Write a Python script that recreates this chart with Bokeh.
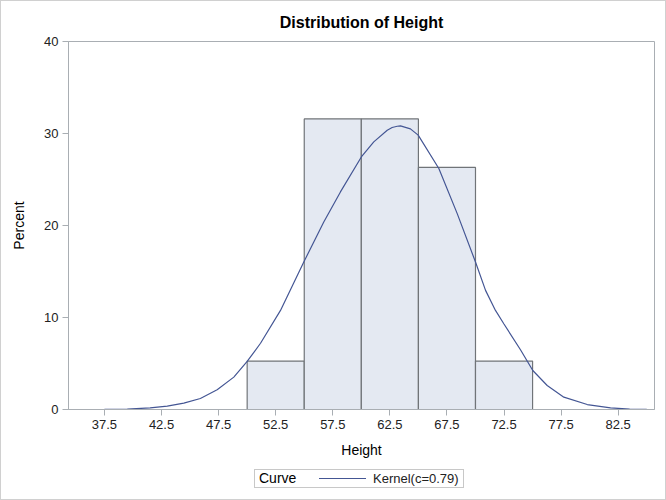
from bokeh.plotting import figure
from bokeh.layouts import column
from bokeh.models import Range1d, FixedTicker, ColumnDataSource, Div
from bokeh.embed import file_html
from bokeh.resources import INLINE

# ---- data ----
bin_left = [50.0, 55.0, 60.0, 65.0, 70.0]
bin_right = [55.0, 60.0, 65.0, 70.0, 75.0]
percent = [5.263, 31.579, 31.579, 26.316, 5.263]

kernel_x = [35.0, 37.5, 39.5, 41.5, 43.0, 44.45, 45.9, 47.37, 48.83, 50.0, 51.17,
            52.92, 54.96, 56.71, 58.17, 60.0, 61.09, 62.27, 62.7, 63.14, 63.43,
            64.3, 64.98, 66.79, 68.40, 70.0, 70.88, 71.75, 72.48, 73.94, 75.02,
            76.28, 77.74, 79.79, 81.83, 83.5, 85.0]
kernel_y = [0.0, 0.01, 0.05, 0.18, 0.36, 0.69, 1.2, 2.14, 3.52, 5.22, 7.2,
            10.77, 16.03, 20.38, 23.65, 27.45, 29.09, 30.36, 30.65, 30.79, 30.83,
            30.5, 29.82, 26.19, 21.29, 16.03, 12.95, 10.77, 9.32, 6.5, 4.24,
            2.61, 1.34, 0.54, 0.18, 0.05, 0.02]

x_ticks = [37.5, 42.5, 47.5, 52.5, 57.5, 62.5, 67.5, 72.5, 77.5, 82.5]
y_ticks = [0, 10, 20, 30, 40]

legend_title = "Curve"
legend_label = "Kernel(c=0.79)"

FONT = "Liberation Sans"
AXIS_GRAY = "#A9AEB3"
CURVE_COLOR = "#445694"

p = figure(width=664, height=462, output_backend="svg", toolbar_location=None,
           x_range=Range1d(34.35, 85.68), y_range=Range1d(0, 40),
           min_border_left=67, min_border_right=11, min_border_top=40,
           min_border_bottom=54)

p.title.text = "Distribution of Height"
p.title.align = "center"
p.title.text_font = FONT
p.title.text_font_size = "16px"
p.title.text_font_style = "bold"
p.title.text_color = "#000000"
p.title.standoff = 21

p.xgrid.visible = False
p.ygrid.visible = False
p.outline_line_color = AXIS_GRAY
p.outline_line_width = 1

bars = ColumnDataSource(dict(left=bin_left, right=bin_right, top=percent,
                             bottom=[0] * len(percent)))
p.quad(left="left", right="right", top="top", bottom="bottom", source=bars,
       fill_color="#E4E9F2", line_color="#707478", line_width=1.2)

p.line(kernel_x, kernel_y, line_color=CURVE_COLOR, line_width=1.2)

for ax in (p.xaxis[0], p.yaxis[0]):
    ax.axis_line_color = AXIS_GRAY
    ax.major_tick_line_color = AXIS_GRAY
    ax.minor_tick_line_color = None
    ax.major_tick_out = 6
    ax.major_tick_in = 0
    ax.major_label_text_font = FONT
    ax.major_label_text_font_size = "13px"
    ax.major_label_text_color = "#222222"
    ax.axis_label_text_font = FONT
    ax.axis_label_text_font_size = "14px"
    ax.axis_label_text_font_style = "normal"
    ax.axis_label_text_color = "#000000"

p.xaxis.ticker = FixedTicker(ticks=x_ticks)
p.xaxis.major_label_overrides = {t: f"{t:.1f}" for t in x_ticks}
p.xaxis.axis_label = "Height"
p.xaxis.major_label_standoff = 4
p.xaxis.axis_label_standoff = 10

p.yaxis.ticker = FixedTicker(ticks=y_ticks)
p.yaxis.axis_label = "Percent"
p.yaxis.major_label_standoff = 4
p.yaxis.axis_label_standoff = 14

# ---- legend strip below the plot ----
legend_html = (
    f'<div style="position:relative;width:664px;height:36px;'
    f'font-family:\'{FONT}\';">'
    '<div style="position:absolute;left:253px;top:6px;width:210px;height:19px;'
    'box-sizing:border-box;border:1px solid #C8C8C8;background:#fff;"></div>'
    '<span style="position:absolute;left:258px;top:6px;height:19px;'
    f'line-height:19px;font-size:14px;color:#000;white-space:nowrap;">{legend_title}</span>'
    '<div style="position:absolute;left:318px;top:15px;width:47px;height:0;'
    f'border-top:1.2px solid {CURVE_COLOR};"></div>'
    '<span style="position:absolute;left:372px;top:6px;height:19px;'
    f'line-height:19px;font-size:13px;color:#222;white-space:nowrap;">{legend_label}</span>'
    '</div>'
)
legend_div = Div(text=legend_html, width=664, height=36, margin=0)

layout = column(p, legend_div, spacing=0, styles={"border": "1px solid #D0D0D0"})

open("out.html", "w").write(file_html(layout, INLINE))
